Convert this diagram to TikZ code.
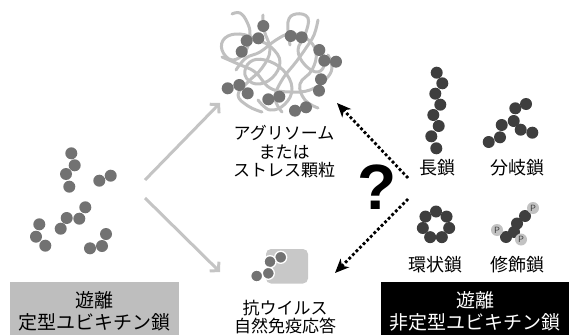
\documentclass[tikz,border=0pt]{standalone}
\usepackage{fontspec}
\setmainfont{Liberation Sans}
\newfontfamily\jp{Noto Sans CJK JP}
\usetikzlibrary{arrows.meta}
\definecolor{ubmid}{HTML}{727272}
\definecolor{ubdark}{HTML}{3E3E3E}
\definecolor{tanglegrey}{HTML}{C0C0C0}
\definecolor{flowgrey}{HTML}{C4C4C4}
\definecolor{boxgrey}{HTML}{BEBEBE}
\definecolor{iconrect}{HTML}{C8C8C8}
\definecolor{phos}{HTML}{C2C2C2}
\tikzset{
  midball/.style={fill=ubmid},
  darkball/.style={fill=ubdark},
  tangleline/.style={draw=tanglegrey, line width=3pt, line cap=round, line join=round},
  flowarrow/.style={draw=flowgrey, line width=3pt, -{Straight Barb[length=6pt,width=13pt,line width=3pt]}},
  dotarrow/.style={draw=black, line width=2.8pt, dash pattern=on 2.8pt off 2.3pt,
    -{Stealth[length=14pt,width=12pt,inset=4pt]}},
  lab/.style={font=\jp\fontsize{17}{18.5}\selectfont, align=center, inner sep=0pt},
  kindlab/.style={font=\jp\fontsize{18}{20}\selectfont, inner sep=0pt},
  boxlab/.style={font=\jp\fontsize{19}{22}\selectfont, align=center, inner sep=0pt,
    minimum height=58pt},
  pball/.style={circle, fill=phos, minimum size=12pt, inner sep=0pt,
    font=\sffamily\fontsize{9}{9}\selectfont, text=ubdark},
}
\begin{document}
\begin{tikzpicture}[x=1pt,y=-1pt]
\useasboundingbox (0,0) rectangle (569,334);

% --- aggresome / stress granule tangle ---
\draw[tangleline] plot[smooth, tension=0.7] coordinates {(232,14) (240,13) (247,22) (250,35) (245,52) (232,60) (222,50) (225,38) (240,34) (258,40) (272,48) (280,62) (272,78) (256,84) (245,75) (250,62) (265,60) (283,70) (292,88) (285,104) (270,110) (258,100)};
\draw[tangleline] plot[smooth, tension=0.7] coordinates {(263,15) (264,30) (270,50) (262,68) (248,82) (238,95) (248,106) (262,112)};
\draw[tangleline] plot[smooth, tension=0.7] coordinates {(290,45) (288,22) (296,14) (308,18) (305,35) (298,50) (305,65) (318,72) (325,62) (320,48)};
\draw[tangleline] plot[smooth, tension=0.7] coordinates {(318,20) (314,35) (306,48) (296,62) (282,80) (275,98) (282,112)};
\draw[tangleline] plot[smooth, tension=0.7] coordinates {(222,57) (238,64) (255,72) (270,88) (290,92) (310,90) (325,80) (332,68) (328,55)};
\draw[tangleline] plot[smooth, tension=0.7] coordinates {(236,70) (246,58) (260,52) (276,40) (290,34) (306,38) (316,52) (312,70) (300,84) (305,100) (318,108)};
\foreach \x/\y in {263.3/26, 258.3/38.3, 246.7/40.7, 241.7/51.7, 290.7/36, 301.7/37.3,
  319.3/50, 324.3/60.7, 336/61.7, 321/79.3, 319/90.7, 227.7/88.3, 239.3/85,
  247.7/93.3, 268.3/99.3, 279.3/96.7, 295/110.7, 306/107.3}
  \fill[midball] (\x,\y) circle (6);

% --- free canonical chains ---
\foreach \x/\y in {71.3/153.3, 74.7/165.3, 66/174, 69.3/186.7,
  99.3/180.7, 110.7/175.7,
  85.3/207.3, 79.3/218.7, 66.7/218, 60.7/228.7,
  39.3/224.3, 36/236.7, 45.3/245.7,
  106/234, 102/246, 90/248.3}
  \fill[midball] (\x,\y) circle (6);

% --- long chain ---
\foreach \x/\y in {436.7/72.7, 442.3/83.3, 435.3/93.7, 440.3/104.7,
  433.3/115, 438.7/126, 431.3/136.3, 436.3/148.3}
  \fill[darkball] (\x,\y) circle (6);
% --- branched chain ---
\foreach \x/\y in {526/104, 515.3/108.3, 513.7/121, 501.7/125,
  520.7/129.7, 532.3/132.7, 500/137.3, 488.7/142}
  \fill[darkball] (\x,\y) circle (6);
% --- cyclic chain ---
\foreach \a in {0,...,6}
  \fill[darkball] ({436+13.5*cos(90+\a*360/7)},{225-13.5*sin(90+\a*360/7)}) circle (6);
% --- modified chain ---
\foreach \x/\y in {525/216, 517/223.5, 514/232, 506/237}
  \fill[darkball] (\x,\y) circle (6);
\node[pball] (p1) at (533,208) {P};
\node[pball] (p2) at (521,239.5) {P};
\node[pball] (p3) at (497,230) {P};

% --- antiviral innate immunity icon ---
\fill[iconrect, rounded corners=5pt] (266,249) rectangle (308,283.5);
\foreach \x/\y in {280.7/257.3, 270/261.7, 268.3/273.3, 256.7/276}
  \filldraw[midball, draw=white, line width=1.3pt] (\x,\y) circle (6);

% --- labels ---
\node[lab] (aggr) at (284,152) {アグリソーム\\または\\ストレス顆粒};
\node[lab] (anti) at (285,317) {抗ウイルス\\自然免疫応答};
\node[kindlab] (long) at (437,168) {長鎖};
\node[kindlab] (branch) at (517,168) {分岐鎖};
\node[kindlab] (ring) at (435,265) {環状鎖};
\node[kindlab] (mod) at (517,265) {修飾鎖};

\node[boxlab, fill=boxgrey, minimum width=169pt] (canon) at (94.5,311) {遊離\\定型ユビキチン鎖};
\node[boxlab, fill=black, text=white, minimum width=188pt] (noncanon) at (475,311) {遊離\\非定型ユビキチン鎖};

\node[font=\bfseries\fontsize{64}{64}\selectfont, inner sep=0pt] (q) at (376.7,187) {?};

% --- connectors ---
\coordinate (fromfree1) at (145,180);
\coordinate (fromfree2) at (145,198);
\coordinate (toaggr) at (220,103);
\coordinate (toanti) at (220,272);
\coordinate (fromnc1) at (408,178);
\coordinate (fromnc2) at (408,199);
\coordinate (toaggr2) at (337,103);
\coordinate (toanti2) at (335,273);
\draw[flowarrow] (fromfree1) -- (toaggr);
\draw[flowarrow] (fromfree2) -- (toanti);
\draw[dotarrow] (fromnc1) -- (toaggr2);
\draw[dotarrow] (fromnc2) -- (toanti2);
\end{tikzpicture}
\end{document}
